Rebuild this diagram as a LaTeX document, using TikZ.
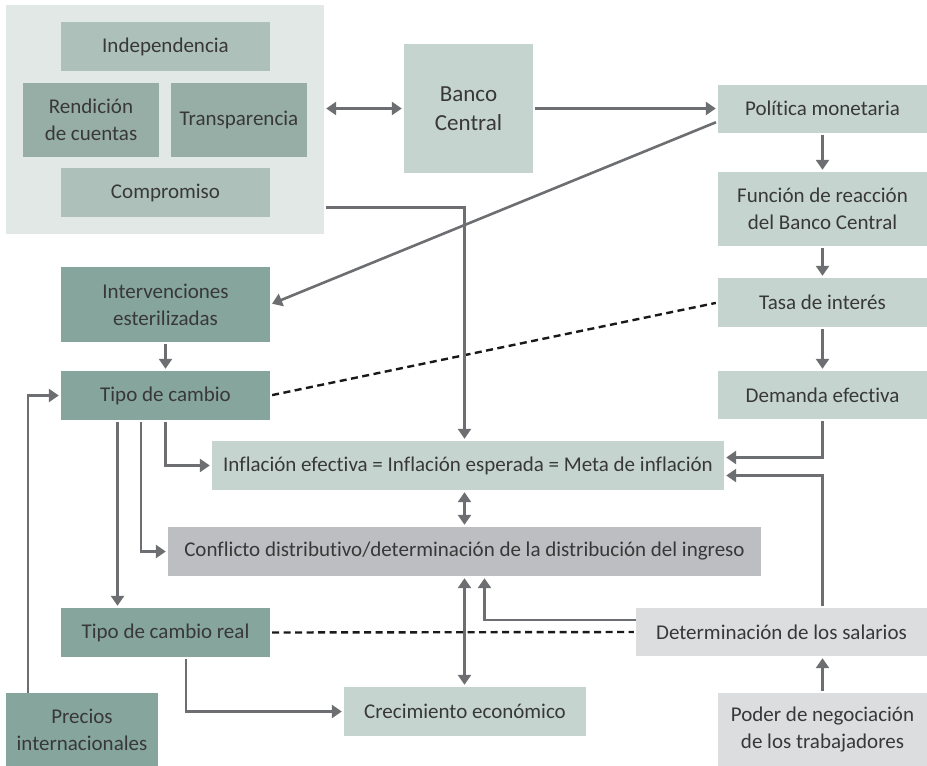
\documentclass[tikz,border=0pt]{standalone}
\usepackage{fontspec}
\setmainfont{Carlito}[Ligatures=NoCommon]
\usetikzlibrary{arrows.meta,calc}
\definecolor{grpbg}{HTML}{E1E8E5}
\definecolor{lteal}{HTML}{ADC0BA}
\definecolor{mteal}{HTML}{97AEA6}
\definecolor{pale}{HTML}{C6D4CF}
\definecolor{dteal}{HTML}{86A59C}
\definecolor{cgray}{HTML}{BDBEC1}
\definecolor{lgray}{HTML}{DCDDDF}
\definecolor{conn}{HTML}{6D6E71}
\definecolor{txt}{HTML}{383838}
\begin{document}
\begin{tikzpicture}[x=1pt,y=-1pt,
  box/.style={inner sep=0pt, align=center, text=txt,
    font=\fontsize{21}{27}\selectfont},
  arr/.style={draw=conn, line width=2.6pt,
    -{Triangle[length=10pt,width=13pt]}, shorten >=2pt, shorten <=2pt},
  darr/.style={arr, {Triangle[length=10pt,width=13pt]}-{Triangle[length=10pt,width=13pt]}},
  dashline/.style={draw=black!90, line width=2.4pt, dash pattern=on 7pt off 4.5pt, shorten <=2pt, shorten >=2pt}]
\useasboundingbox (0,0) rectangle (927,766);
\fill[white] (0,0) rectangle (927,766);
% group
\node[box, fill=grpbg, minimum width=318pt, minimum height=229pt] (grp) at (165,119.5) {};
\node[box, fill=lteal, minimum width=209pt, minimum height=49pt] (indep) at (165.5,46.5) {Independencia};
\node[box, fill=mteal, minimum width=136pt, minimum height=74pt] (rend) at (91,120) {Rendición\\de cuentas};
\node[box, fill=mteal, minimum width=136pt, minimum height=74pt] (transp) at (239,120) {Transparencia};
\node[box, fill=lteal, minimum width=209pt, minimum height=49pt] (comp) at (165.5,192.5) {Compromiso};
% banco central
\node[box, fill=pale, minimum width=129pt, minimum height=129pt, font=\fontsize{23}{29}\selectfont] (bc) at (468.5,108.5) {Banco\\Central};
% right column
\node[box, fill=pale, minimum width=209pt, minimum height=48pt] (pm) at (822.5,108.5) {Política monetaria};
\node[box, fill=pale, minimum width=209pt, minimum height=74pt] (fr) at (822.5,209) {Función de reacción\\del Banco Central};
\node[box, fill=pale, minimum width=209pt, minimum height=49pt] (ti) at (822.5,302.5) {Tasa de interés};
\node[box, fill=pale, minimum width=209pt, minimum height=48pt] (de) at (822.5,395) {Demanda efectiva};
% left column
\node[box, fill=dteal, minimum width=209pt, minimum height=75pt] (ie) at (165.5,304.5) {Intervenciones\\esterilizadas};
\node[box, fill=dteal, minimum width=209pt, minimum height=49pt] (tc) at (165.5,395.5) {Tipo de cambio};
\node[box, fill=dteal, minimum width=209pt, minimum height=49pt] (tcr) at (165.5,632.5) {Tipo de cambio real};
\node[box, fill=dteal, minimum width=152pt, minimum height=73pt] (prec) at (82,729.5) {Precios\\internacionales};
% middle
\node[box, fill=pale, minimum width=512pt, minimum height=49pt] (inf) at (468,465.5) {Inflación efectiva = Inflación esperada = Meta de inflación};
\node[box, fill=cgray, minimum width=593pt, minimum height=49pt] (conf) at (464.5,551.5) {Conflicto distributivo/determinación de la distribución del ingreso};
\node[box, fill=pale, minimum width=242pt, minimum height=49pt] (cre) at (465,711.5) {Crecimiento económico};
\node[box, fill=lgray, minimum width=291pt, minimum height=48pt] (det) at (781.5,632) {Determinación de los salarios};
\node[box, fill=lgray, minimum width=209pt, minimum height=73pt] (pod) at (822.5,729.5) {Poder de negociación\\de los trabajadores};
% connectors
\draw[darr] (grp.east |- bc) -- (bc.west);
\draw[arr] (bc.east) -- (pm.west);
\draw[arr] ($(pm.west)+(0,13)$) -- (ie.east);
\draw[arr] (pm.south) -- (fr.north);
\draw[arr] (fr.south) -- (ti.north);
\draw[arr] (ti.south) -- (de.north);
\draw[arr] (ie.south) -- (tc.north);
\draw[dashline] (tc.east) -- (ti.west);
\draw[arr] ($(grp.east)+(0,88)$) -| (conf.north |- inf.north);
\draw[darr] (conf.north |- inf.south) -- (conf.north);
\draw[darr] (conf.south) -- (conf.south |- cre.north);
\draw[arr] (tc.south) |- (inf.west);
\draw[arr] ($(tc.south)+(-24.5,0)$) |- (conf.west);
\coordinate (tca) at ($(tc.south)+(-48,0)$);
\draw[arr] (tca) -- (tca |- tcr.north);
\draw[arr, shorten <=0pt] ($(prec.north)+(-54,0)$) |- (tc.west);
\draw[arr] ($(tcr.south)+(20.5,0)$) |- (cre.west);
\draw[dashline] (tcr.east) -- (det.west);
\draw[arr, shorten <=0pt] ($(det.west)+(0,-12)$) -| ($(conf.south)+(20,0)$);
\draw[arr] (de.south) |- ($(inf.east)+(0,-8)$);
\draw[arr] ($(det.north)+(41,0)$) |- ($(inf.east)+(0,10)$);
\draw[arr] (pod.north) -- (pod.north |- det.south);
\end{tikzpicture}
\end{document}
